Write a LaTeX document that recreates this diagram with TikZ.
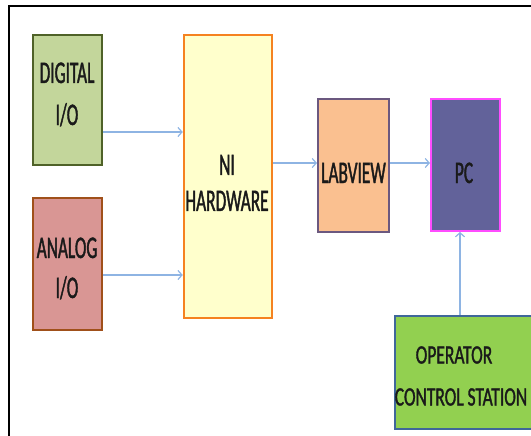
\documentclass[tikz,border=0pt]{standalone}
\usepackage{fontspec}
\usetikzlibrary{arrows.meta}
\newfontfamily\boxfont[FakeStretch=0.55, FakeBold=1.2]{Carlito}
\newfontfamily\ocsfont[FakeStretch=0.66, FakeBold=1.2]{Carlito}
\definecolor{digfill}{HTML}{C3D69B}
\definecolor{digline}{HTML}{4F6228}
\definecolor{anafill}{HTML}{D99694}
\definecolor{analine}{HTML}{A0501A}
\definecolor{nifill}{HTML}{FFFFCC}
\definecolor{niline}{HTML}{F58220}
\definecolor{labfill}{HTML}{FAC090}
\definecolor{labline}{HTML}{6B587F}
\definecolor{pcfill}{HTML}{62629A}
\definecolor{pcline}{HTML}{FF4CFF}
\definecolor{ocsfill}{HTML}{92D050}
\definecolor{ocsline}{HTML}{3F679A}
\definecolor{arrowc}{HTML}{8EB4E3}
\definecolor{txt}{HTML}{1A1A1A}
\tikzset{
  blk/.style={draw, rectangle, inner sep=0pt},
  lbl/.style={inner sep=0pt, text=txt, font=\boxfont\fontsize{31.5}{32}\selectfont, text height=20pt, text depth=0pt},
  olbl/.style={inner sep=0pt, text=txt, font=\ocsfont\fontsize{26.5}{27}\selectfont, text height=17pt, text depth=0pt},
  conn/.style={draw=arrowc, line width=1.4pt, -{Straight Barb[length=4pt,width=9pt,line width=1.2pt]}},
}
\begin{document}
\begin{tikzpicture}[x=1pt,y=-1pt]
\useasboundingbox (0,0) rectangle (531,436);
\clip (0,0) rectangle (531,436);
% frame
\draw[line width=2.2pt, black] (9,437) -- (9,6) -- (532,6);
% boxes
\node[blk, fill=digfill, draw=digline, line width=2pt, minimum width=69pt, minimum height=130pt] (dig) at (67.5,100) {};
\node[blk, fill=anafill, draw=analine, line width=1.8pt, minimum width=69pt, minimum height=132pt] (ana) at (67.5,264) {};
\node[blk, fill=nifill, draw=niline, line width=2.5pt, minimum width=88pt, minimum height=283pt] (ni) at (228,176.5) {};
\node[blk, fill=labfill, draw=labline, line width=2pt, minimum width=71pt, minimum height=133pt] (lab) at (353.5,165.5) {};
\node[blk, fill=pcfill, draw=pcline, line width=2pt, minimum width=69pt, minimum height=132pt] (pc) at (465.5,165) {};
\node[blk, fill=ocsfill, draw=ocsline, line width=2.5pt, minimum width=150pt, minimum height=113pt] (ocs) at (470,372.5) {};
% labels
\node[lbl] (dig1) at (67,73) {DIGITAL};
\node[lbl] (dig2) at (67,115) {I/O};
\node[lbl] (ana1) at (67,248) {ANALOG};
\node[lbl] (ana2) at (67,288) {I/O};
\node[lbl] (ni1) at (227,165) {NI};
\node[lbl] (ni2) at (227,201) {HARDWARE};
\node[lbl] (lab1) at (353.5,173) {LABVIEW};
\node[lbl] (pc1) at (464,173) {PC};
\node[olbl] (ocs1) at (454,355) {OPERATOR};
\node[olbl] (ocs2) at (461,397) {CONTROL STATION};
% connectors
\draw[conn] (dig.east |- 0,132) -- (ni.west |- 0,132);
\draw[conn] (ana.east |- 0,275) -- (ni.west |- 0,275);
\draw[conn] (ni.east |- 0,163) -- (lab.west |- 0,163);
\draw[conn] (lab.east |- 0,163) -- (pc.west |- 0,163);
\draw[conn] (ocs.north -| 460,0) -- (pc.south -| 460,0);
\end{tikzpicture}
\end{document}
